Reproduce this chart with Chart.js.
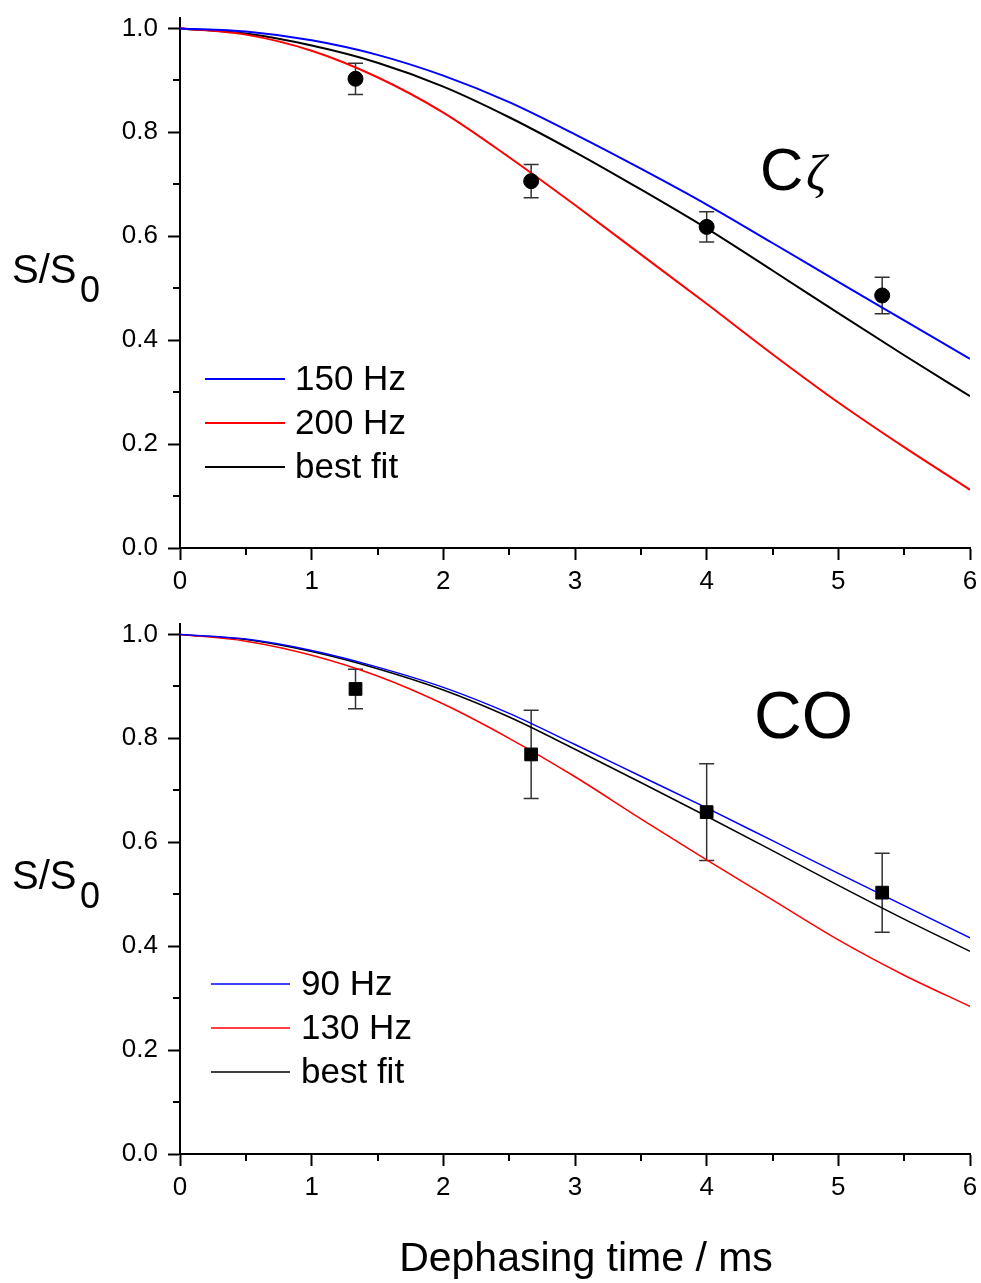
<!DOCTYPE html>
<html>
<head>
<meta charset="utf-8">
<script src="https://cdn.jsdelivr.net/npm/chart.js@4.4.1/dist/chart.umd.min.js"></script>
<style>
  html, body { margin: 0; padding: 0; background: #fff; }
  #wrap { position: relative; width: 981px; height: 1283px; overflow: hidden; }
  .panel { position: absolute; left: 0; width: 981px; }
  #top { top: 0; height: 606px; }
  #bottom { top: 606px; height: 677px; }
</style>
</head>
<body>
<div id="wrap">
  <div class="panel" id="top"><canvas id="chartTop" width="981" height="606"></canvas></div>
  <div class="panel" id="bottom"><canvas id="chartBottom" width="981" height="677"></canvas></div>
</div>
<script>
// time grid of the simulated curves (ms)
const timeGrid = [0, 0.5, 1, 1.5, 2, 2.5, 3, 3.5, 4, 4.5, 5, 5.5, 6];

// C-zeta panel
const czLabels = ["150 Hz", "200 Hz", "best fit"];
const cz150 = [1, 0.994, 0.977, 0.949, 0.909, 0.858, 0.796, 0.730, 0.661, 0.587, 0.512, 0.438, 0.364];
const cz200 = [1, 0.988, 0.957, 0.906, 0.838, 0.752, 0.660, 0.565, 0.470, 0.373, 0.280, 0.194, 0.112];
const czFit = [1, 0.990, 0.967, 0.934, 0.888, 0.829, 0.762, 0.690, 0.615, 0.534, 0.452, 0.371, 0.292];
const czExpT = [1.333, 2.667, 4.0, 5.333];
const czExp = [0.903, 0.706, 0.618, 0.486];
const czErr = [0.030, 0.032, 0.029, 0.035];

// CO panel
const coLabels = ["90 Hz", "130 Hz", "best fit"];
const co90 = [1, 0.991, 0.969, 0.937, 0.898, 0.848, 0.788, 0.727, 0.666, 0.603, 0.540, 0.478, 0.416];
const co130 = [1, 0.987, 0.960, 0.920, 0.866, 0.800, 0.726, 0.645, 0.566, 0.489, 0.412, 0.344, 0.284];
const coFit = [1, 0.990, 0.967, 0.934, 0.893, 0.841, 0.779, 0.715, 0.650, 0.584, 0.517, 0.452, 0.390];
const coExpT = [1.333, 2.667, 4.0, 5.333];
const coExp = [0.895, 0.769, 0.658, 0.503];
const coErr = [0.038, 0.085, 0.093, 0.076];

// axis ticks
const xTicks = [0, 1, 2, 3, 4, 5, 6];
const yTicks = [0, 0.2, 0.4, 0.6, 0.8, 1.0];

const FONT = "'Liberation Sans', Arial, Helvetica, sans-serif";
const pts = (xs, ys) => xs.map((t, i) => ({ x: t, y: ys[i] }));

// minor ticks halfway between the major ones
const minorTicks = {
  id: "minorTicks",
  afterDraw(chart) {
    const { ctx, chartArea } = chart;
    const { x, y } = chart.scales;
    ctx.save();
    ctx.strokeStyle = "#000";
    ctx.lineWidth = 2;
    ctx.beginPath();
    for (let i = 0; i < x.ticks.length - 1; i++) {
      const px = Math.round(x.getPixelForValue((x.ticks[i].value + x.ticks[i + 1].value) / 2));
      ctx.moveTo(px, chartArea.bottom);
      ctx.lineTo(px, chartArea.bottom + 7);
    }
    for (let i = 0; i < y.ticks.length - 1; i++) {
      const py = Math.round(y.getPixelForValue((y.ticks[i].value + y.ticks[i + 1].value) / 2));
      ctx.moveTo(chartArea.left, py);
      ctx.lineTo(chartArea.left - 7, py);
    }
    ctx.stroke();
    ctx.restore();
  }
};

// vertical error bars with caps
const errorBars = {
  id: "errorBars",
  beforeDatasetsDraw(chart, args, opts) {
    const { ctx } = chart;
    const { x, y } = chart.scales;
    ctx.save();
    ctx.strokeStyle = opts.color;
    ctx.lineWidth = opts.width;
    opts.xs.forEach((t, i) => {
      const px = x.getPixelForValue(t);
      const top = y.getPixelForValue(opts.ys[i] + opts.errs[i]);
      const bot = y.getPixelForValue(opts.ys[i] - opts.errs[i]);
      ctx.beginPath();
      ctx.moveTo(px, top); ctx.lineTo(px, bot);
      ctx.moveTo(px - opts.cap, top); ctx.lineTo(px + opts.cap, top);
      ctx.moveTo(px - opts.cap, bot); ctx.lineTo(px + opts.cap, bot);
      ctx.stroke();
    });
    ctx.restore();
  }
};

// legend inside the plot, panel label, y title with subscript, x title
const panelText = {
  id: "panelText",
  afterDraw(chart, args, opts) {
    const { ctx } = chart;
    ctx.save();
    ctx.fillStyle = "#000";
    ctx.textAlign = "left";

    // legend
    const lg = opts.legend;
    ctx.textBaseline = "middle";
    ctx.font = lg.size + "px " + FONT;
    chart.data.datasets.filter(d => d.inLegend).forEach((d, i) => {
      const ly = lg.y + i * lg.gap;
      ctx.strokeStyle = d.borderColor;
      ctx.lineWidth = d.borderWidth;
      ctx.beginPath();
      ctx.moveTo(lg.x, ly);
      ctx.lineTo(lg.x + lg.len, ly);
      ctx.stroke();
      ctx.fillText(d.label, lg.x + lg.len + lg.textGap, ly + 1);
    });

    ctx.textBaseline = "alphabetic";
    // y title S/S0
    ctx.font = "40px " + FONT;
    ctx.fillText("S/S", 12, opts.yTitleBase);
    ctx.font = "36px " + FONT;
    ctx.fillText("0", 80, opts.yTitleBase + 19);

    // panel label
    opts.label.forEach(p => {
      ctx.font = p.font;
      ctx.fillText(p.text, p.x, p.y);
    });

    if (opts.xTitle) {
      ctx.textAlign = "center";
      ctx.font = "41px " + FONT;
      ctx.fillText(opts.xTitle.text, opts.xTitle.x, opts.xTitle.y);
    }
    ctx.restore();
  }
};

function makeChart(id, curves, labels, lineWidth, expT, expY, expErr, pointStyle, pointRadius, textOpts, xHeight) {
  const colors = ["#0000ff", "#ff0000", "#000000"];
  const datasets = curves.map((c, i) => ({
    label: labels[i],
    inLegend: true,
    data: pts(timeGrid, c),
    borderColor: colors[i],
    borderWidth: lineWidth,
    pointRadius: 0,
    cubicInterpolationMode: "monotone",
    fill: false,
    order: i + 1
  }));
  datasets.push({
    label: "data",
    data: pts(expT, expY),
    showLine: false,
    pointStyle: pointStyle,
    pointRadius: pointRadius,
    pointBackgroundColor: "#000",
    pointBorderColor: "#000",
    pointBorderWidth: 1,
    order: 0
  });

  return new Chart(document.getElementById(id), {
    type: "line",
    data: { datasets },
    options: {
      responsive: false,
      animation: false,
      layout: { padding: { top: 18, right: 11, left: 0, bottom: 0 } },
      plugins: {
        legend: { display: false },
        tooltip: { enabled: false },
        errorBars: { xs: expT, ys: expY, errs: expErr, cap: 7.5, color: "#333", width: 1.5 },
        panelText: textOpts
      },
      scales: {
        x: {
          type: "linear",
          min: 0,
          max: 6,
          afterBuildTicks: s => { s.ticks = xTicks.map(v => ({ value: v })); },
          afterFit: s => { s.height = xHeight; s.paddingLeft = 0; s.paddingRight = 0; },
          ticks: { color: "#000", font: { family: FONT, size: 26 }, padding: 6, maxRotation: 0,
                   callback: v => String(v) },
          grid: { drawOnChartArea: false, drawTicks: true, tickLength: 12, tickWidth: 2, tickColor: "#000" },
          border: { display: true, color: "#000", width: 2 }
        },
        y: {
          type: "linear",
          min: 0,
          max: 1.02,
          afterBuildTicks: s => { s.ticks = yTicks.map(v => ({ value: v })); },
          afterFit: s => { s.width = 180; s.paddingTop = 0; s.paddingBottom = 0; },
          ticks: { color: "#000", font: { family: FONT, size: 26 }, padding: 10,
                   callback: v => Number(v).toFixed(1) },
          grid: { drawOnChartArea: false, drawTicks: true, tickLength: 12, tickWidth: 2, tickColor: "#000" },
          border: { display: true, color: "#000", width: 2 }
        }
      }
    },
    plugins: [minorTicks, errorBars, panelText]
  });
}

makeChart("chartTop", [cz150, cz200, czFit], czLabels, 2, czExpT, czExp, czErr, "circle", 7.5, {
  legend: { x: 205, y: 379, gap: 44, len: 80, textGap: 10, size: 35 },
  yTitleBase: 283,
  label: [
    { text: "C", x: 760, y: 190, font: "60px " + FONT },
    { text: "\u03B6", x: 806, y: 190, font: "italic 50px 'Liberation Serif', 'DejaVu Serif', serif" }
  ]
}, 58);

makeChart("chartBottom", [co90, co130, coFit], coLabels, 1.5, coExpT, coExp, coErr, "rect", 9, {
  legend: { x: 211, y: 378, gap: 44, len: 79, textGap: 11, size: 35 },
  yTitleBase: 283,
  label: [
    { text: "CO", x: 754, y: 132, font: "66px " + FONT }
  ],
  xTitle: { text: "Dephasing time / ms", x: 586, y: 1271 - 606 }
}, 129);
</script>
</body>
</html>
